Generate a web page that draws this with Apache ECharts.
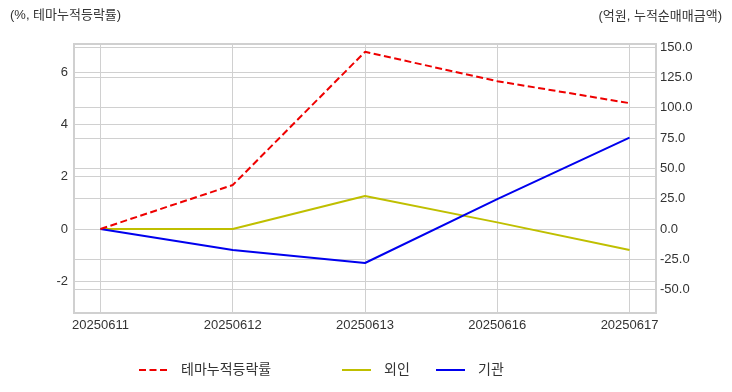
<!DOCTYPE html>
<html><head><meta charset="utf-8">
<script src="https://cdn.jsdelivr.net/npm/echarts@6/dist/echarts.min.js"></script>
<style>html,body{margin:0;padding:0;background:#fff}#c{width:732px;height:392px}</style>
</head><body><div id="c"></div>
<script>
const categories = ['20250611','20250612','20250613','20250616','20250617'];
const themeReturn = [0, 1.68, 6.77, 5.65, 4.81];
const foreign = [0, 0, 27.2, 5.5, -17.3];
const institution = [0, -17.3, -28.0, 24.7, 75.4];
const leftTicks = [-2, 0, 2, 4, 6];
const rightTicks = [-50, -25, 0, 25, 50, 75, 100, 125, 150];

const FONT = '"Liberation Sans", "Noto Sans CJK KR", sans-serif';
const toPairs = arr => arr.map((v, i) => [i, v]);
const chart = echarts.init(document.getElementById('c'));
const gridColor = '#d0d0d0';
const legendBase = {top: 363, padding: 0, itemWidth: 29, itemHeight: 12, itemStyle: {opacity: 0},
  textStyle: {fontSize: 14, color: '#333', padding: [0,0,0,8], fontFamily: FONT}};
chart.setOption({
  animation: false,
  textStyle: {fontFamily: FONT},
  graphic: [
    {type: 'text', left: 10, top: 9, style: {text: '(%, 테마누적등락률)', fontSize: 13, fill: '#333', fontFamily: FONT}},
    {type: 'text', right: 10, top: 10, style: {text: '(억원, 누적순매매금액)', fontSize: 13, fill: '#333', fontFamily: FONT}}
  ],
  grid: {left: 74, right: 76, top: 44, bottom: 79, show: true, borderColor: gridColor, borderWidth: 2, containLabel: false},
  legend: [
    Object.assign({left: 138, data: ['테마누적등락률']}, legendBase),
    Object.assign({left: 341, data: ['외인']}, legendBase),
    Object.assign({left: 435, data: ['기관']}, legendBase)
  ],
  xAxis: {
    type: 'value', min: -0.2, max: 4.2,
    axisLine: {show: false},
    axisTick: {show: false, customValues: [0,1,2,3,4]},
    axisLabel: {customValues: [0,1,2,3,4], formatter: v => categories[Math.round(v)], fontSize: 13, color: '#333', margin: 6},
    splitLine: {show: true, lineStyle: {color: gridColor, width: 1}}
  },
  yAxis: [
    {
      type: 'value', min: -3.21, max: 7.07, position: 'left',
      axisLine: {show: false},
      axisTick: {show: false, customValues: leftTicks},
      axisLabel: {customValues: leftTicks, fontSize: 13, color: '#333', margin: 6},
      splitLine: {show: true, lineStyle: {color: gridColor, width: 1}}
    },
    {
      type: 'value', min: -69.2, max: 152.5, position: 'right',
      axisLine: {show: false},
      axisTick: {show: false, customValues: rightTicks},
      axisLabel: {customValues: rightTicks, formatter: v => v.toFixed(1), fontSize: 13, color: '#333', margin: 4},
      splitLine: {show: true, lineStyle: {color: gridColor, width: 1}}
    }
  ],
  series: [
    {name: '테마누적등락률', type: 'line', yAxisIndex: 0, data: toPairs(themeReturn), symbol: 'none', z: 3,
     lineStyle: {color: '#ee0000', width: 2, type: [7, 3.5]}, itemStyle: {color: '#ee0000'}},
    {name: '외인', type: 'line', yAxisIndex: 1, data: toPairs(foreign), symbol: 'none', z: 2,
     lineStyle: {color: '#bfbf00', width: 2}, itemStyle: {color: '#bfbf00'}},
    {name: '기관', type: 'line', yAxisIndex: 1, data: toPairs(institution), symbol: 'none', z: 2,
     lineStyle: {color: '#0000ee', width: 2}, itemStyle: {color: '#0000ee'}}
  ]
});
</script></body></html>
